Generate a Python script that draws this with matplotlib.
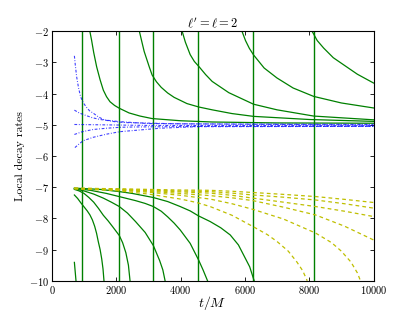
import numpy as np
import matplotlib
matplotlib.use("Agg")
import matplotlib.pyplot as plt

plt.rcParams['font.family'] = 'cmr10'
plt.rcParams['mathtext.fontset'] = 'cm'
plt.rcParams['axes.formatter.use_mathtext'] = True
plt.rcParams['xtick.direction'] = 'in'
plt.rcParams['ytick.direction'] = 'in'
plt.rcParams['xtick.top'] = True
plt.rcParams['ytick.right'] = True

# vertical markers (t/M)
vlines_t = [935, 2090, 3150, 4550, 6260, 8160]

# upper green curves (t, rate)
up_A_t = [1180, 1235, 1300, 1392, 1500, 1600, 1700, 1807, 1950, 2097, 2400, 2741, 3115, 4000, 4984, 7000, 10000]
up_A_y = [-2.0, -2.29, -2.68, -3.14, -3.56, -3.89, -4.10, -4.26, -4.38, -4.47, -4.62, -4.72, -4.80, -4.87, -4.91, -4.94, -4.95]
up_B_t = [2720, 2800, 2870, 2950, 3030, 3115, 3250, 3400, 3600, 3800, 4200, 4570, 4984, 5600, 6270, 8000, 10000]
up_B_y = [-2.0, -2.35, -2.65, -2.9, -3.15, -3.40, -3.62, -3.80, -3.98, -4.12, -4.32, -4.43, -4.52, -4.64, -4.73, -4.83, -4.89]
up_C_t = [4050, 4150, 4300, 4430, 4570, 4780, 4984, 5500, 6270, 7000, 8140, 10000]
up_C_y = [-2.0, -2.35, -2.75, -2.97, -3.13, -3.39, -3.61, -3.97, -4.34, -4.52, -4.72, -4.84]
up_D_t = [5910, 6020, 6140, 6270, 6600, 7000, 7500, 8140, 9000, 10000]
up_D_y = [-2.0, -2.3, -2.55, -2.76, -3.18, -3.50, -3.82, -4.09, -4.30, -4.46]
up_E_t = [8090, 8250, 8450, 8750, 9075, 9500, 10000]
up_E_y = [-2.0, -2.3, -2.54, -2.85, -3.08, -3.38, -3.66]

# lower green curves
lo_1_t = [700, 1500, 2090, 2500, 3150, 3600, 3990, 4300, 4560, 4920, 5250, 5545, 5800, 5960, 6150, 6290]
lo_1_y = [-7.03, -7.07, -7.14, -7.20, -7.33, -7.46, -7.62, -7.76, -7.92, -8.10, -8.30, -8.53, -8.85, -9.17, -9.55, -10.0]
lo_2_t = [700, 1200, 1700, 2090, 2600, 2900, 3155, 3400, 3600, 3800, 3990, 4300, 4560, 4700, 4840]
lo_2_y = [-7.04, -7.10, -7.20, -7.30, -7.43, -7.52, -7.62, -7.77, -7.95, -8.15, -8.37, -8.80, -9.33, -9.65, -10.0]
lo_3_t = [700, 1000, 1300, 1600, 1850, 2097, 2350, 2600, 2900, 3155, 3350, 3450, 3520]
lo_3_y = [-7.05, -7.12, -7.22, -7.35, -7.48, -7.62, -7.83, -8.10, -8.45, -8.87, -9.35, -9.65, -10.0]
lo_4_t = [700, 850, 1000, 1150, 1300, 1450, 1600, 1750, 1900, 2097, 2200, 2300, 2380, 2430]
lo_4_y = [-7.07, -7.12, -7.20, -7.33, -7.48, -7.68, -7.90, -8.08, -8.28, -8.55, -8.78, -9.10, -9.50, -10.0]
lo_5_t = [700, 800, 900, 1000, 1100, 1184, 1260, 1330, 1390, 1442, 1500, 1550, 1590, 1620]
lo_5_y = [-7.25, -7.36, -7.50, -7.63, -7.76, -7.89, -8.05, -8.25, -8.48, -8.74, -9.00, -9.30, -9.62, -10.0]
lo_6_t = [700, 750]
lo_6_y = [-9.41, -10.0]

# blue dash-dot curves
bl_1_t = [700, 730, 770, 830, 893, 970, 1060, 1170, 1290, 1450, 1650, 1950, 2325, 4000, 10000]
bl_1_y = [-2.79, -3.10, -3.46, -3.82, -4.10, -4.28, -4.42, -4.55, -4.63, -4.75, -4.85, -4.90, -4.93, -4.97, -4.99]
bl_2_t = [700, 850, 1028, 1250, 1495, 2118, 3000, 10000]
bl_2_y = [-4.53, -4.62, -4.69, -4.77, -4.83, -4.90, -4.96, -5.01]
bl_3_t = [700, 1500, 3000, 10000]
bl_3_y = [-4.99, -5.00, -5.02, -5.03]
bl_4_t = [700, 950, 1287, 1700, 2118, 2530, 5000, 10000]
bl_4_y = [-5.31, -5.22, -5.15, -5.11, -5.08, -5.07, -5.05, -5.05]
bl_5_t = [716, 850, 975, 1287, 1700, 2118, 3364, 4507, 10000]
bl_5_y = [-5.73, -5.61, -5.51, -5.40, -5.30, -5.22, -5.11, -5.06, -5.05]

# yellow dashed curves
ye_t = [700, 2000, 3000, 4000, 4920, 5600, 6250, 7200, 8200, 9100, 10000]
ye_a = [-7.03, -7.05, -7.07, -7.09, -7.10, -7.13, -7.17, -7.23, -7.30, -7.39, -7.49]
ye_b = [-7.03, -7.06, -7.09, -7.12, -7.14, -7.19, -7.25, -7.32, -7.41, -7.53, -7.67]
ye_c = [-7.04, -7.07, -7.11, -7.15, -7.19, -7.26, -7.35, -7.48, -7.62, -7.77, -7.94]
ye_d = [-7.04, -7.08, -7.13, -7.20, -7.27, -7.34, -7.43, -7.64, -7.89, -8.25, -8.69]
ye_e_t = [700, 2000, 3000, 4000, 4920, 5600, 6250, 7200, 8200, 8700, 9000, 9300, 9500, 9595]
ye_e = [-7.05, -7.09, -7.16, -7.26, -7.38, -7.53, -7.71, -8.02, -8.47, -8.78, -9.05, -9.40, -9.75, -10.0]
ye_f_t = [700, 2000, 3000, 4000, 4500, 4920, 5600, 6250, 6700, 7000, 7350, 7620, 7800, 7940]
ye_f = [-7.05, -7.11, -7.22, -7.38, -7.49, -7.62, -7.90, -8.26, -8.52, -8.74, -9.05, -9.40, -9.68, -10.0]

fig = plt.figure(figsize=(4.15, 3.12), dpi=100)
ax = fig.add_axes([0.125, 0.1, 0.775, 0.8])

for t in vlines_t:
    ax.axvline(t, color='g', lw=1.0)

for tt, yy in [(up_A_t, up_A_y), (up_B_t, up_B_y), (up_C_t, up_C_y),
               (up_D_t, up_D_y), (up_E_t, up_E_y),
               (lo_1_t, lo_1_y), (lo_2_t, lo_2_y), (lo_3_t, lo_3_y),
               (lo_4_t, lo_4_y), (lo_5_t, lo_5_y), (lo_6_t, lo_6_y)]:
    ax.plot(tt, yy, color='g', lw=0.9)

for tt, yy in [(bl_1_t, bl_1_y), (bl_2_t, bl_2_y), (bl_3_t, bl_3_y),
               (bl_4_t, bl_4_y), (bl_5_t, bl_5_y)]:
    ax.plot(tt, yy, color='b', lw=0.8, alpha=0.75,
            dashes=(2.5, 1.5, 0.8, 1.5))

for yy in [ye_a, ye_b, ye_c, ye_d]:
    ax.plot(ye_t, yy, color='y', lw=0.9, dashes=(3, 2.5))
ax.plot(ye_e_t, ye_e, color='y', lw=0.9, dashes=(3, 2.5))
ax.plot(ye_f_t, ye_f, color='y', lw=0.9, dashes=(3, 2.5))

ax.set_xlim(0, 10000)
ax.set_ylim(-10, -2)
ax.set_xticks([0, 2000, 4000, 6000, 8000, 10000])
ax.tick_params(labelsize=7.5, length=3, width=0.6, pad=2)
ax.set_xlabel('$t/M$', fontsize=10, labelpad=-1)
ax.set_ylabel('Local decay rates', fontsize=8.5, labelpad=3)
ax.set_title(r"$\ell' = \ell = 2$", fontsize=9, pad=3)

fig.savefig('out.png', dpi=100)
